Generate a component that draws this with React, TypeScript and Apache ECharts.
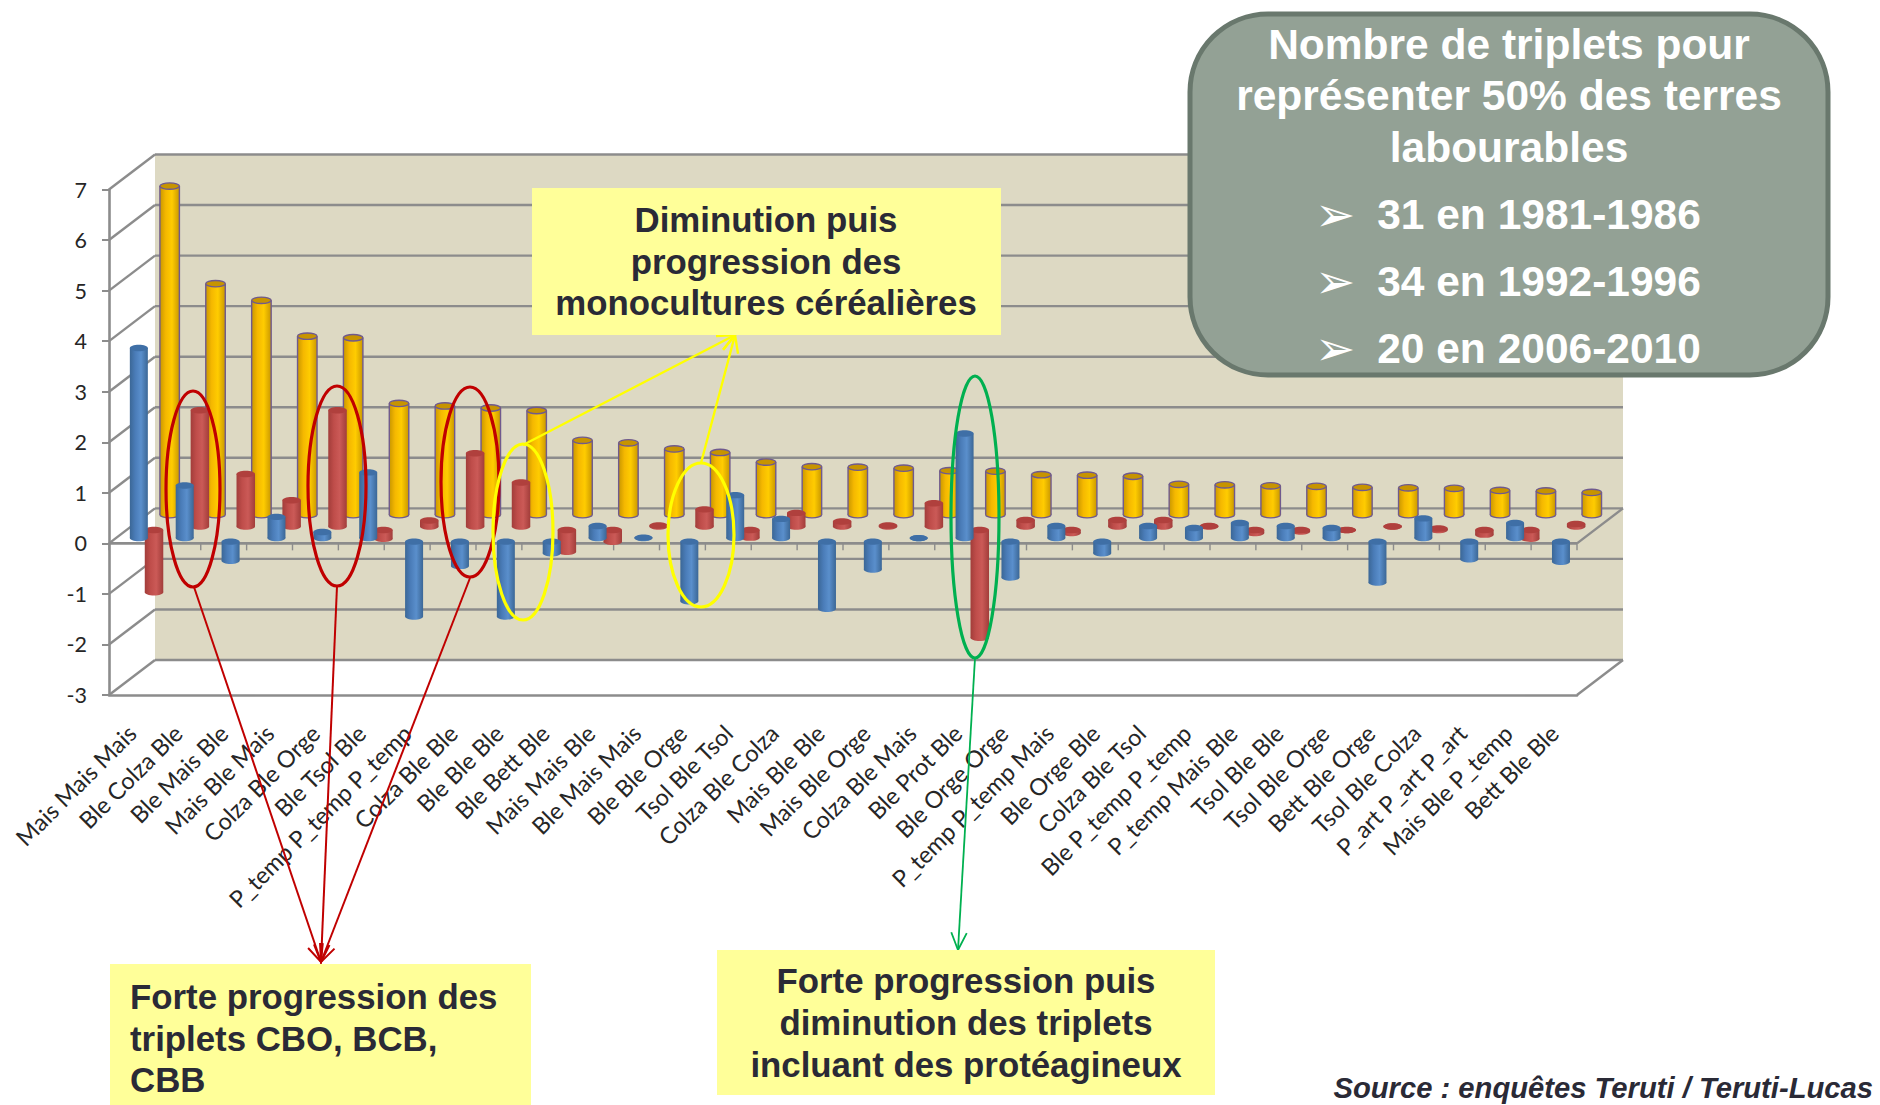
import React, { useEffect, useRef } from "react";
import * as echarts from "echarts";

const categories = [
  "Mais Mais Mais", "Ble Colza Ble", "Ble Mais Ble", "Mais Ble Mais", "Colza Ble Orge", "Ble Tsol Ble",
  "P_temp P_temp P_temp", "Colza Ble Ble", "Ble Ble Ble", "Ble Bett Ble", "Mais Mais Ble", "Ble Mais Mais",
  "Ble Ble Orge", "Tsol Ble Tsol", "Colza Ble Colza", "Mais Ble Ble", "Mais Ble Orge", "Colza Ble Mais",
  "Ble Prot Ble", "Ble Orge Orge", "P_temp P_temp Mais", "Ble Orge Ble", "Colza Ble Tsol", "Ble P_temp P_temp",
  "P_temp Mais Ble", "Tsol Ble Ble", "Tsol Ble Orge", "Bett Ble Orge", "Tsol Ble Colza", "P_art P_art P_art",
  "Mais Ble P_temp", "Bett Ble Ble",
];
const blueValues = [
  3.76, 1.04, -0.45, 0.42, 0.12, 1.3, -1.55, -0.55, -1.55, -0.3, 0.24, 0.01, -1.25, 0.85, 0.38, -1.4,
  -0.62, 0, 2.07, -0.78, 0.24, -0.3, 0.24, 0.2, 0.3, 0.24, 0.2, -0.88, 0.39, -0.42, 0.3, -0.47,
];
const redValues = [
  -1.3, 2.3, 1.04, 0.52, 2.3, -0.24, 0.12, 1.45, 0.87, -0.5, -0.3, 0.02, 0.34, -0.22, 0.27, 0.1,
  0.02, 0.46, -2.2, 0.13, -0.13, 0.13, 0.13, 0.01, -0.13, -0.1, -0.07, 0, -0.04, -0.16, -0.24, 0.05,
];
const yellowValues = [
  6.5, 4.57, 4.24, 3.53, 3.5, 2.2, 2.15, 2.11, 2.06, 1.47, 1.42, 1.3, 1.23, 1.04, 0.95, 0.94,
  0.92, 0.87, 0.86, 0.79, 0.78, 0.76, 0.6, 0.59, 0.57, 0.56, 0.54, 0.53, 0.52, 0.48, 0.47, 0.44,
];
const yMin = -3;
const yMax = 7;
const depthX = 46;
const depthY = -35;
const gridColor = "#8c8c8c";
const darkText = "#2a2a36";
const SANS = '"Liberation Sans", Arial, sans-serif';

function cylinderSeries(values: number[], depth: number, w: number, c: any, z: number) {
  return {
    type: "custom",
    coordinateSystem: "cartesian2d",
    silent: true,
    z,
    clip: false,
    data: values.map((v, i) => [i, v]),
    renderItem: (_p: any, api: any) => {
      const i = api.value(0);
      const v = api.value(1);
      const a = api.coord([i, 0]);
      const b = api.coord([i, v]);
      const cx = a[0] + depth * depthX;
      const y0 = a[1] + depth * depthY + (v < 0 ? 3.5 : 0);
      const y1 = b[1] + depth * depthY;
      const top = Math.min(y0, y1);
      const bot = Math.max(y0, y1);
      const rx = w / 2;
      const ry = 3.2;
      const grad = {
        type: "linear", x: 0, y: 0, x2: 1, y2: 0,
        colorStops: [
          { offset: 0, color: c.edge },
          { offset: 0.3, color: c.mid },
          { offset: 0.62, color: c.light },
          { offset: 1, color: c.edge },
        ],
      };
      const stroke = c.stroke || "transparent";
      const lw = c.stroke ? 1.4 : 0;
      return {
        type: "group",
        children: [
          { type: "ellipse", shape: { cx, cy: bot, rx, ry }, style: { fill: grad, stroke, lineWidth: lw } },
          { type: "rect", shape: { x: cx - rx, y: top, width: w, height: bot - top }, style: { fill: grad } },
          ...(c.stroke
            ? [
                { type: "line", shape: { x1: cx - rx, y1: top, x2: cx - rx, y2: bot }, style: { stroke, lineWidth: lw } },
                { type: "line", shape: { x1: cx + rx, y1: top, x2: cx + rx, y2: bot }, style: { stroke, lineWidth: lw } },
              ]
            : []),
          { type: "ellipse", shape: { cx, cy: top, rx, ry }, style: { fill: c.top, stroke, lineWidth: lw } },
        ],
      };
    },
  };
}

function wallSeries() {
  return {
    type: "custom",
    coordinateSystem: "cartesian2d",
    silent: true,
    z: 1,
    clip: false,
    data: [[0, 0]],
    renderItem: (params: any, api: any) => {
      const sys = params.coordSys;
      const x0 = sys.x;
      const x1 = sys.x + sys.width;
      const yOf = (v: number) => api.coord([0, v])[1];
      const children: any[] = [
        {
          type: "rect",
          shape: { x: x0 + depthX, y: yOf(yMax) + depthY, width: sys.width, height: yOf(yMin) - yOf(yMax) },
          style: { fill: "#ddd9c3" },
        },
      ];
      const line = (xa: number, ya: number, xb: number, yb: number, width = 2.4) => ({
        type: "line",
        shape: { x1: xa, y1: ya, x2: xb, y2: yb },
        style: { stroke: gridColor, lineWidth: width },
      });
      for (let v = yMin; v <= yMax; v += 1) {
        const y = yOf(v);
        children.push(line(x0 + depthX, y + depthY, x1 + depthX, y + depthY));
        children.push(line(x0, y, x0 + depthX, y + depthY));
      }
      const yZero = yOf(0);
      const yLow = yOf(yMin);
      children.push(line(x1, yZero, x1 + depthX, yZero + depthY));
      children.push(line(x1, yLow, x1 + depthX, yLow + depthY));
      children.push(line(x0, yZero, x1, yZero, 2.6));
      const band = sys.width / categories.length;
      for (let k = 0; k <= categories.length; k += 1) {
        children.push(line(x0 + k * band, yZero, x0 + k * band, yZero + 7, 1.4));
      }
      return { type: "group", children };
    },
  };
}

const textEl = (text: string, x: number, y: number, size: number, fill: string, align = "center", extra: any = {}) => ({
  type: "text",
  z: 30,
  silent: true,
  x,
  y,
  style: { text, fill, font: `bold ${size}px ${SANS}`, textAlign: align, textVerticalAlign: "middle", ...extra },
});

const ellipseEl = (cx: number, cy: number, rx: number, ry: number, stroke: string) => ({
  type: "ellipse",
  z: 20,
  silent: true,
  shape: { cx, cy, rx, ry },
  style: { fill: "transparent", stroke, lineWidth: 3.2 },
});

const arrowEls = (x1: number, y1: number, x2: number, y2: number, stroke: string, lw: number) => {
  const ang = Math.atan2(y2 - y1, x2 - x1);
  const len = 19;
  const sp = 0.42;
  return [
    { type: "line", z: 20, silent: true, shape: { x1, y1, x2, y2 }, style: { stroke, lineWidth: lw } },
    {
      type: "polyline",
      z: 20,
      silent: true,
      shape: {
        points: [
          [x2 - len * Math.cos(ang - sp), y2 - len * Math.sin(ang - sp)],
          [x2, y2],
          [x2 - len * Math.cos(ang + sp), y2 - len * Math.sin(ang + sp)],
        ],
      },
      style: { stroke, lineWidth: lw, fill: "transparent" },
    },
  ];
};

const rectEl = (x: number, y: number, width: number, height: number) => ({
  type: "rect",
  z: 25,
  silent: true,
  shape: { x, y, width, height },
  style: { fill: "#ffff99" },
});

const RED = "#c00000";
const YEL = "#ffff00";
const GRN = "#00b050";
const bullet = { font: `48px "DejaVu Sans"` };

const graphics: any[] = [
  rectEl(532, 188, 469, 147),
  textEl("Diminution puis", 766, 219, 34.8, darkText),
  textEl("progression des", 766, 261, 34.8, darkText),
  textEl("monocultures céréalières", 766, 302, 34.8, darkText),

  rectEl(110, 964, 421, 141),
  textEl("Forte progression des", 130, 996, 34.8, darkText, "left"),
  textEl("triplets CBO, BCB,", 130, 1038, 34.8, darkText, "left"),
  textEl("CBB", 130, 1079, 34.8, darkText, "left"),

  rectEl(717, 950, 498, 145),
  textEl("Forte progression puis", 966, 980, 34.8, darkText),
  textEl("diminution des triplets", 966, 1022, 34.8, darkText),
  textEl("incluant des protéagineux", 966, 1064, 34.8, darkText),

  textEl("Source : enquêtes Teruti / Teruti-Lucas", 1873, 1088, 29, darkText, "right", {
    font: `italic bold 29.2px ${SANS}`,
  }),

  {
    type: "rect",
    z: 25,
    silent: true,
    shape: { x: 1190, y: 14, width: 638, height: 361, r: 78 },
    style: { fill: "#93a195", stroke: "#69786d", lineWidth: 5 },
  },
  textEl("Nombre de triplets pour", 1509, 44, 42.5, "#ffffff"),
  textEl("représenter 50% des terres", 1509, 95, 42.5, "#ffffff"),
  textEl("labourables", 1509, 147, 42.5, "#ffffff"),
  textEl("31 en 1981-1986", 1539, 214, 42.5, "#ffffff"),
  textEl("34 en 1992-1996", 1539, 281, 42.5, "#ffffff"),
  textEl("20 en 2006-2010", 1539, 348, 42.5, "#ffffff"),
  textEl("➢", 1335, 214, 48, "#ffffff", "center", bullet),
  textEl("➢", 1335, 281, 48, "#ffffff", "center", bullet),
  textEl("➢", 1335, 348, 48, "#ffffff", "center", bullet),

  ellipseEl(193, 489, 27, 98, RED),
  ellipseEl(337, 486, 29, 100, RED),
  ellipseEl(470, 482, 29, 95, RED),
  ellipseEl(523, 532, 30, 88, YEL),
  ellipseEl(701, 535, 33, 72, YEL),
  ellipseEl(975, 517, 24, 141, GRN),

  ...arrowEls(194, 587, 321, 962, RED, 2),
  ...arrowEls(337, 586, 321, 962, RED, 2),
  ...arrowEls(470, 578, 321, 962, RED, 2),
  ...arrowEls(523, 445, 735, 335, YEL, 2.4),
  ...arrowEls(701, 463, 735, 335, YEL, 2.4),
  ...arrowEls(975, 658, 958, 950, GRN, 1.8),
];

export default function App() {
  const ref = useRef<HTMLDivElement>(null);
  useEffect(() => {
    document.body.style.margin = "0";
    const chart = echarts.init(ref.current!, null, { renderer: "svg" });
    chart.setOption({
      animation: false,
      backgroundColor: "#ffffff",
      grid: { left: 109, right: 303, top: 189.5, bottom: 410 },
      xAxis: {
        type: "category",
        data: categories,
        position: "bottom",
        axisLine: { onZero: false, lineStyle: { color: gridColor, width: 2.6 } },
        axisTick: { show: false },
        axisLabel: {
          interval: 0,
          rotate: 45,
          margin: 34,
          fontSize: 23.5,
          fontFamily: "Lato",
          color: "#262626",
          hideOverlap: false,
        },
      },
      yAxis: {
        type: "value",
        min: yMin,
        max: yMax,
        interval: 1,
        splitLine: { show: false },
        axisLine: { show: true, lineStyle: { color: gridColor, width: 2.6 } },
        axisTick: { show: true, length: 7, lineStyle: { color: gridColor, width: 2 } },
        axisLabel: { margin: 22, fontSize: 21.5, fontFamily: "Lato", color: "#262626" },
      },
      series: [
        wallSeries(),
        cylinderSeries(yellowValues, 0.82, 19.5, { edge: "#c99700", mid: "#f5b800", light: "#ffcc00", top: "#c79400", stroke: "#6f5a8e" }, 3),
        cylinderSeries(redValues, 0.48, 18.5, { edge: "#a23d3a", mid: "#bf4d4a", light: "#cb5a57", top: "#b0403d" }, 4),
        cylinderSeries(blueValues, 0.15, 18, { edge: "#3b6796", mid: "#4a7cb8", light: "#5a8fcc", top: "#3f6fa6" }, 5),
      ],
      graphic: { elements: graphics },
    });
    return () => chart.dispose();
  }, []);
  return <div ref={ref} style={{ width: 1880, height: 1105 }} />;
}
